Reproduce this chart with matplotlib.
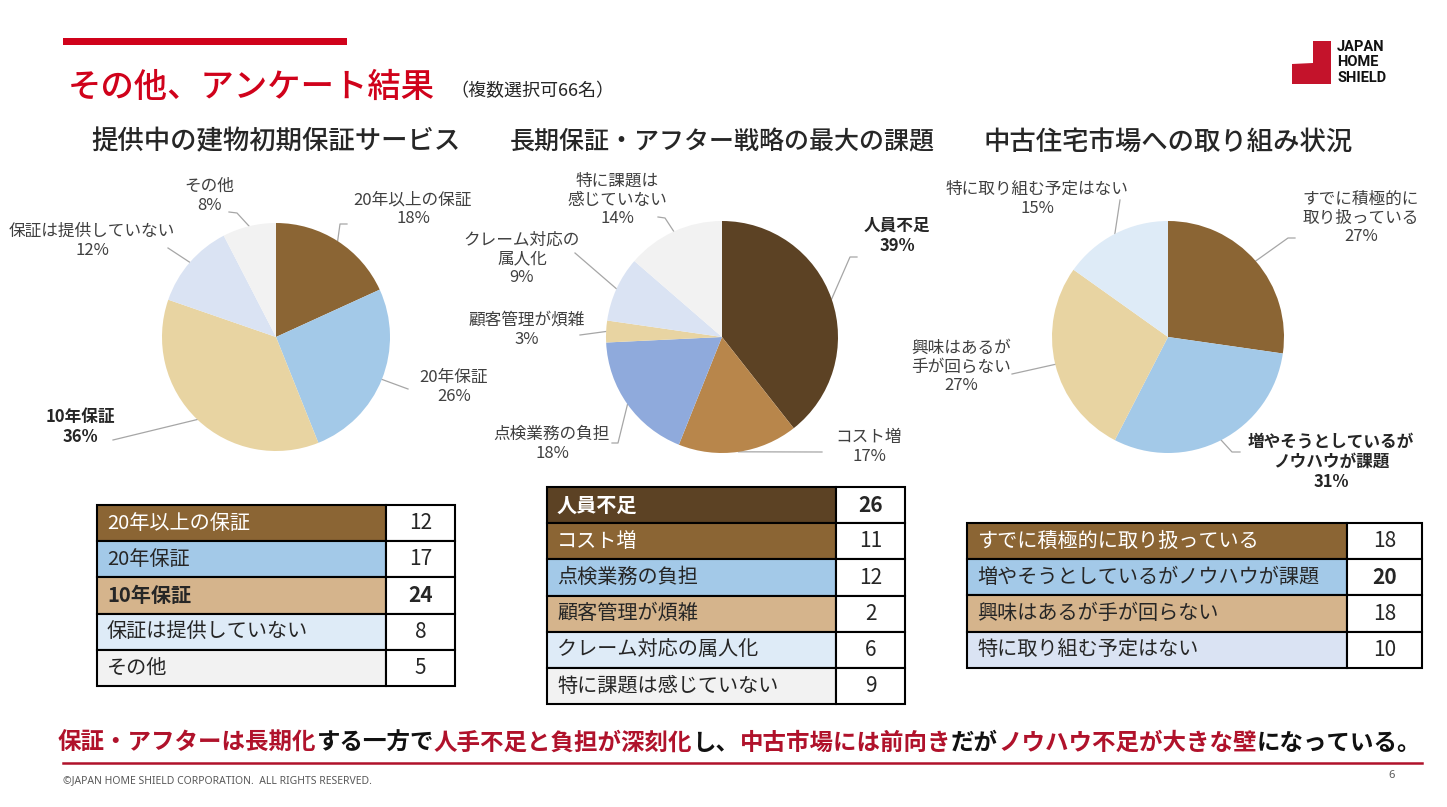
import numpy as np
import matplotlib
matplotlib.use('Agg')
import matplotlib.pyplot as plt
from matplotlib.patches import Rectangle, Polygon

plt.rcParams['font.family'] = ['Noto Sans CJK JP', 'DejaVu Sans']

W, H = 1447, 807

#%% data (n = 66)
q1_names = ['20年以上の保証', '20年保証', '10年保証', '保証は提供していない', 'その他']
q1_counts = [12, 17, 24, 8, 5]
q1_pcts = [18, 26, 36, 12, 8]
q1_pie_names = ['20年以上の保証', '20年保証', '10年保証', '保証は提供していない', 'その他']

q2_names = ['人員不足', 'コスト増', '点検業務の負担', '顧客管理が煩雑',
            'クレーム対応の属人化', '特に課題は感じていない']
q2_counts = [26, 11, 12, 2, 6, 9]
q2_pcts = [39, 17, 18, 3, 9, 14]
q2_pie_names = ['人員不足', 'コスト増', '点検業務の負担', '顧客管理が煩雑',
                'クレーム対応の\n属人化', '特に課題は\n感じていない']

q3_names = ['すでに積極的に取り扱っている', '増やそうとしているがノウハウが課題',
            '興味はあるが手が回らない', '特に取り組む予定はない']
q3_counts = [18, 20, 18, 10]
q3_pcts = [27, 31, 27, 15]
q3_pie_names = ['すでに積極的に\n取り扱っている', '増やそうとしているが\nノウハウが課題',
                '興味はあるが\n手が回らない', '特に取り組む予定はない']

titles = ['提供中の建物初期保証サービス', '長期保証・アフター戦略の最大の課題', '中古住宅市場への取り組み状況']

summary = [('保証・アフターは長期化', 'r'), ('する一方で', 'k'), ('人手不足と負担が深刻化', 'r'),
           ('し、', 'k'), ('中古市場には前向き', 'r'), ('だが', 'k'),
           ('ノウハウ不足が大きな壁', 'r'), ('になっている。', 'k')]

#%% colours
RED = '#D0021B'
DRED = '#B0122B'
TXT = '#262626'
LBL = '#404040'
c_dk = '#5C4224'
c_br = '#8B6534'
c_ob = '#B8864B'
c_bl = '#A3C9E8'
c_bl2 = '#8FAADC'
c_tan = '#E8D4A2'
c_tan2 = '#D5B48C'
c_lb = '#DAE3F3'
c_lb2 = '#DEEBF7'
c_gr = '#F2F2F2'

fig = plt.figure(figsize=(W / 100, H / 100), dpi=100)
ax = fig.add_axes([0, 0, 1, 1])
ax.set_xlim(0, W)
ax.set_ylim(H, 0)
ax.axis('off')

# header
ax.add_patch(Rectangle((63, 38), 284, 7, color=RED, lw=0))
ax.text(68, 87, 'その他、アンケート結果', color=RED, fontsize=24, fontweight='medium',
        va='center', ha='left')
ax.text(450, 91, '（複数選択可66名）', color=TXT, fontsize=13, va='center', ha='left')

# logo
ax.add_patch(Polygon([(1313, 41), (1331, 41), (1331, 84), (1292, 84), (1292, 64), (1313, 63)],
                     closed=True, color='#C4132B', lw=0))
for i, w in enumerate(['JAPAN', 'HOME', 'SHIELD']):
    ax.text(1337, 47 + i * 15.5, w, fontsize=10.5, fontweight='bold', family='Roboto',
            color='#111111', va='center', ha='left')

#%% pies
pies = [
    dict(cx=276, cy=337, r=114, counts=q1_counts, pcts=q1_pcts, names=q1_pie_names,
         colors=[c_br, c_bl, c_tan, c_lb, c_gr],
         txt=[(413, 209), (454, 387), (80, 427), (92, 241), (209, 196)],
         bends=[[(340, 224), (347, 224)], [(408, 389)], [(113, 440)], [(168, 248)],
                [(237, 213), (229, 212)]],
         bold=[False, False, True, False, False]),
    dict(cx=722, cy=337, r=116, counts=q2_counts, pcts=q2_pcts, names=q2_pie_names,
         colors=[c_dk, c_ob, c_bl2, c_tan, c_lb, c_gr],
         txt=[(897, 236), (869, 447), (552, 444), (527, 330), (522, 259), (617, 200)],
         bends=[[(850, 257), (857, 257)], [(822, 452)], [(618, 443), (612, 443)], [(580, 335)],
                [(575, 253)], [(665, 218), (658, 217)]],
         bold=[True, False, False, False, False, False]),
    dict(cx=1168, cy=337, r=116, counts=q3_counts, pcts=q3_pcts, names=q3_pie_names,
         colors=[c_br, c_bl, c_tan, c_lb2],
         txt=[(1361, 218), (1331, 462), (961, 367), (1037, 199)],
         bends=[[(1288, 238), (1295, 238)], [(1232, 452), (1240, 452)], [(1012, 374)],
                [(1120, 200)]],
         bold=[False, True, False, False]),
]

for i, p in enumerate(pies):
    cx, cy, r = p['cx'], p['cy'], p['r']
    ax.text(cx, 142, titles[i], fontsize=[19, 18, 19][i], fontweight='medium', color=TXT,
            ha='center', va='center')
    pax = fig.add_axes([(cx - r) / W, (H - cy - r) / H, 2 * r / W, 2 * r / H])
    wedges, _ = pax.pie(p['counts'], colors=p['colors'], startangle=90, counterclock=False,
                        radius=1, wedgeprops=dict(linewidth=0))
    pax.set_xlim(-1, 1)
    pax.set_ylim(-1, 1)
    pax.axis('off')
    for j, wdg in enumerate(wedges):
        mid = np.deg2rad((wdg.theta1 + wdg.theta2) / 2)
        pts = [(cx + r * np.cos(mid), cy - r * np.sin(mid))] + p['bends'][j]
        xs, ys = zip(*pts)
        ax.plot(xs, ys, color='#A6A6A6', lw=0.9)
        ax.text(p['txt'][j][0], p['txt'][j][1], '%s\n%d%%' % (p['names'][j], p['pcts'][j]),
                fontsize=12, ha='center', va='center', linespacing=1.15,
                color=TXT if p['bold'][j] else LBL,
                fontweight='bold' if p['bold'][j] else 'normal')

#%% tables
def draw_table(x0, xs, x1, y0, rh, names, vals, fills, bold_name, bold_val):
    for k in range(len(names)):
        y = y0 + k * rh
        ax.add_patch(Rectangle((x0, y), xs - x0, rh, facecolor=fills[k], edgecolor='black', lw=1.5))
        ax.add_patch(Rectangle((xs, y), x1 - xs, rh, facecolor='white', edgecolor='black', lw=1.5))
        tc = 'white' if fills[k] in (c_dk, c_br) else TXT
        ax.text(x0 + 10, y + rh / 2, names[k], fontsize=14.5, color=tc, va='center', ha='left',
                fontweight='bold' if bold_name[k] else 'normal')
        ax.text((xs + x1) / 2, y + rh / 2, str(vals[k]), fontsize=15, color=TXT,
                va='center', ha='center', fontweight='bold' if bold_val[k] else 'normal')

draw_table(97, 386, 455, 505, 36.2, q1_names, q1_counts,
           [c_br, c_bl, c_tan2, c_lb2, c_gr],
           [False, False, True, False, False], [False, False, True, False, False])
draw_table(547, 836, 905, 487, 36.2, q2_names, q2_counts,
           [c_dk, c_br, c_bl, c_tan2, c_lb2, c_gr],
           [True, False, False, False, False, False], [True, False, False, False, False, False])
draw_table(967, 1347, 1422, 523, 36.2, q3_names, q3_counts,
           [c_br, c_bl, c_tan2, c_lb],
           [False, False, False, False], [False, True, False, False])

#%% summary line
rend = fig.canvas.get_renderer()
x = 58
for s, c in summary:
    t = ax.text(x, 743, s, fontsize=16.9, fontweight='bold', va='center', ha='left',
                color=DRED if c == 'r' else '#111111')
    x += t.get_window_extent(renderer=rend).width

ax.plot([63, 1422], [763, 763], color=DRED, lw=1.8)
ax.text(63, 781, '©JAPAN HOME SHIELD CORPORATION.  ALL RIGHTS RESERVED.', fontsize=7.5,
        family='Noto Sans', color='#595959', va='center', ha='left')
ax.text(1392, 776, '6', fontsize=8, family='Noto Sans', color='#595959', va='center', ha='center')

fig.savefig('out.png', dpi=100)
